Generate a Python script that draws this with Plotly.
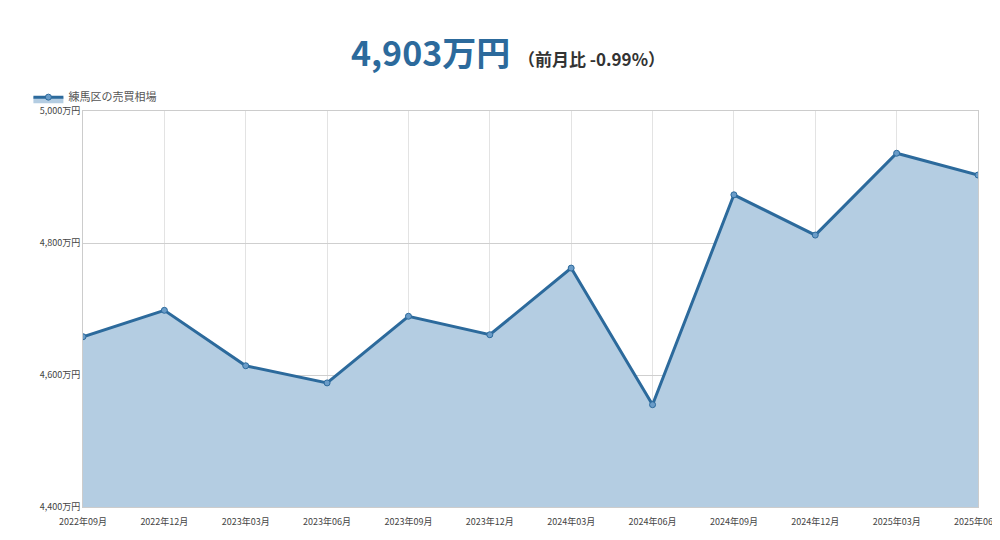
import plotly.graph_objects as go

# 練馬区の売買相場（万円）
months = ["2022年09月", "2022年12月", "2023年03月", "2023年06月", "2023年09月", "2023年12月",
          "2024年03月", "2024年06月", "2024年09月", "2024年12月", "2025年03月", "2025年06月"]
prices = [4658, 4698, 4614, 4588, 4689, 4661, 4762, 4555, 4873, 4812, 4936, 4903]
y_ticks = [4400, 4600, 4800, 5000]
y_tick_labels = ["4,400万円", "4,600万円", "4,800万円", "5,000万円"]

line_color = "#2c6a9c"
font = "Noto Sans CJK JP"

fig = go.Figure()
fig.add_trace(go.Scatter(
    x=months, y=prices, name="練馬区の売買相場",
    mode="lines+markers", fill="tozeroy",
    fillcolor="#b4cde2",
    line=dict(color=line_color, width=3),
    marker=dict(size=6, color="#6a9cc8", line=dict(color=line_color, width=1)),
))

fig.update_layout(
    width=1000, height=540,
    margin=dict(l=75, r=30, t=103, b=41, autoexpand=False),
    paper_bgcolor="white", plot_bgcolor="white",
    font=dict(family=font, color="#333"),
    title=dict(
        text="<b>4,903万円</b> <span style='font-size:17px;color:#333'><b>（前月比 -0.99%）</b></span>",
        x=0.5, xanchor="center", y=0.915, yanchor="middle",
        font=dict(size=34, color=line_color, family=font),
    ),
    showlegend=True,
    legend=dict(x=-0.061, y=1.035, xanchor="left", yanchor="middle",
                font=dict(size=11, color="#555"), bgcolor="rgba(0,0,0,0)"),
    xaxis=dict(type="category", range=[0, 11], showgrid=True, gridcolor="#e3e3e3",
               showline=True, linecolor="#ccc", tickfont=dict(size=9, color="#444"),
               ticks="", mirror=True, ticklabelstandoff=6),
    yaxis=dict(range=[4400, 5000], tickvals=y_ticks, ticktext=y_tick_labels,
               showgrid=True, gridcolor="#cfcfcf", showline=True, linecolor="#ccc",
               tickfont=dict(size=9, color="#444"), zeroline=False, mirror=True),
)

fig.write_html("out.html")
